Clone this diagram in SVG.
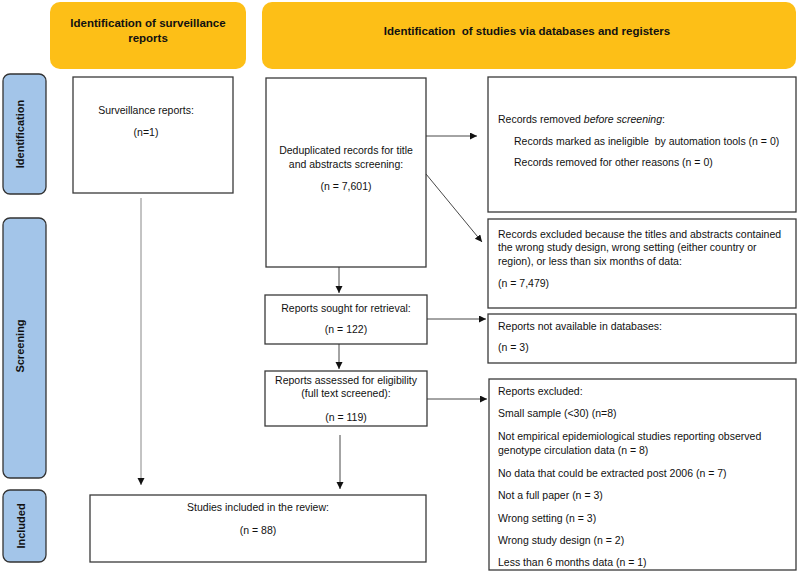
<svg xmlns="http://www.w3.org/2000/svg" width="800" height="572" viewBox="0 0 800 572">
<style>
text{font-family:"Liberation Sans",Arial,sans-serif;font-size:10.5px;fill:#111}
.hd{fill:#FDBF17;stroke:none}
.hdt{font-weight:bold;font-size:11.5px;text-anchor:middle}
.side{fill:#A3C5E9;stroke:#333;stroke-width:1.3}
.sidet{font-weight:bold;font-size:11px;text-anchor:middle}
.box{fill:#fff;stroke:#3a3a3a;stroke-width:1.3}
.c{text-anchor:middle}
.con{stroke:#333;stroke-width:0.9;fill:none;marker-end:url(#ah)}
.conl{stroke:#888;stroke-width:1;fill:none;marker-end:url(#ah)}
</style>
<defs>
<marker id="ah" markerUnits="userSpaceOnUse" markerWidth="8" markerHeight="8" refX="7" refY="3.5" orient="auto">
<path d="M0,0 L7,3.5 L0,7 z" fill="#111"/>
</marker>
</defs>
<rect width="800" height="572" fill="#fff"/>

<g id="header-surveillance">
<rect class="hd" x="50" y="2" width="196" height="67" rx="10"/>
<text class="hdt" x="148" y="27">Identification of surveillance</text>
<text class="hdt" x="148" y="42">reports</text>
</g>
<g id="header-databases">
<rect class="hd" x="262" y="2" width="534" height="67" rx="10"/>
<text class="hdt" x="527" y="35" style="white-space:pre">Identification  of studies via databases and registers</text>
</g>

<g id="stage-identification">
<rect class="side" x="3" y="74" width="43" height="120" rx="7"/>
<text class="sidet" transform="translate(24,134) rotate(-90)">Identification</text>
</g>
<g id="stage-screening">
<rect class="side" x="3" y="218" width="43" height="260" rx="7"/>
<text class="sidet" transform="translate(24,346) rotate(-90)">Screening</text>
</g>
<g id="stage-included">
<rect class="side" x="3" y="490" width="43" height="72" rx="7"/>
<text class="sidet" transform="translate(25,526) rotate(-90)">Included</text>
</g>

<g id="surveillance-reports">
<rect class="box" x="73" y="77" width="160" height="116"/>
<text class="c" x="146" y="113.5">Surveillance reports:</text>
<text class="c" x="146" y="135.5">(n=1)</text>
</g>

<g id="deduplicated">
<rect class="box" x="266" y="78" width="160" height="189"/>
<text class="c" x="346" y="153.5">Deduplicated records for title</text>
<text class="c" x="346" y="167.5">and abstracts screening:</text>
<text class="c" x="346" y="190">(n = 7,601)</text>
</g>

<g id="records-removed">
<rect class="box" x="488" y="77" width="308" height="135"/>
<text x="498" y="122.5">Records removed <tspan font-style="italic">before screening</tspan>:</text>
<text x="514" y="144.5" style="white-space:pre">Records marked as ineligible  by automation tools (n = 0)</text>
<text x="514" y="165.5">Records removed for other reasons (n = 0)</text>
</g>

<g id="records-excluded">
<rect class="box" x="488" y="219" width="308" height="89"/>
<text x="498" y="237.5">Records excluded because the titles and abstracts contained</text>
<text x="498" y="251">the wrong study design, wrong setting (either country or</text>
<text x="498" y="264.5">region), or less than six months of data:</text>
<text x="498" y="286.5">(n = 7,479)</text>
</g>

<g id="reports-sought">
<rect class="box" x="265" y="295" width="162" height="49"/>
<text class="c" x="346" y="311.5">Reports sought for retrieval:</text>
<text class="c" x="346" y="332.5">(n = 122)</text>
</g>

<g id="reports-not-available">
<rect class="box" x="488" y="314" width="308" height="49"/>
<text x="498" y="329.5">Reports not available in databases:</text>
<text x="498" y="350.5">(n = 3)</text>
</g>

<g id="reports-assessed">
<rect class="box" x="265" y="371" width="162" height="55"/>
<text class="c" x="346" y="383.5">Reports assessed for eligibility</text>
<text class="c" x="346" y="396.5">(full text screened):</text>
<text class="c" x="346" y="420.5">(n = 119)</text>
</g>

<g id="reports-excluded">
<rect class="box" x="489" y="379" width="307" height="191"/>
<text x="498" y="395">Reports excluded:</text>
<text x="498" y="417">Small sample (&lt;30) (n=8)</text>
<text x="498" y="439.5">Not empirical epidemiological studies reporting observed</text>
<text x="498" y="453.5">genotype circulation data (n = 8)</text>
<text x="498" y="476.5">No data that could be extracted post 2006 (n = 7)</text>
<text x="498" y="499">Not a full paper (n = 3)</text>
<text x="498" y="522">Wrong setting (n = 3)</text>
<text x="498" y="544">Wrong study design (n = 2)</text>
<text x="498" y="566">Less than 6 months data (n = 1)</text>
</g>

<g id="studies-included">
<rect class="box" x="90" y="495" width="336" height="67"/>
<text class="c" x="258" y="510.5">Studies included in the review:</text>
<text class="c" x="258" y="533.5">(n = 88)</text>
</g>

<g id="connectors">
<line class="conl" x1="141" y1="198" x2="141" y2="485"/>
<line class="con" x1="426" y1="136" x2="477" y2="136"/>
<line class="con" x1="426" y1="174" x2="482" y2="242"/>
<line class="con" x1="339" y1="267" x2="339" y2="293"/>
<line class="con" x1="427" y1="319" x2="486" y2="319"/>
<line class="con" x1="339" y1="344" x2="339" y2="369"/>
<line class="con" x1="427" y1="399" x2="487" y2="399"/>
<line class="con" x1="340" y1="435" x2="340" y2="489"/>
</g>
</svg>
